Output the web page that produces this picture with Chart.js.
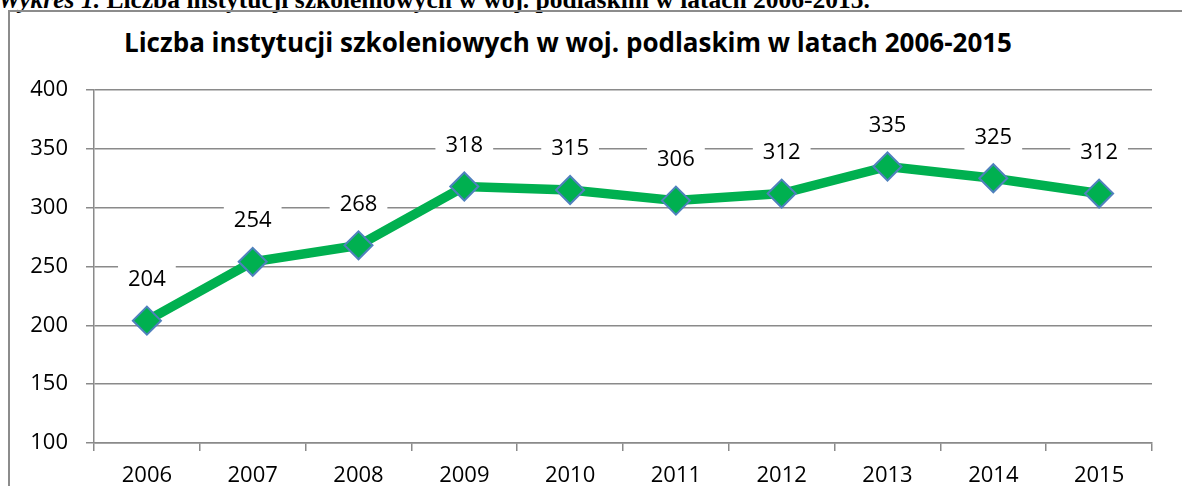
<!DOCTYPE html>
<html>
<head>
<meta charset="utf-8">
<script src="https://cdn.jsdelivr.net/npm/chart.js@4"></script>
<style>
  html, body { margin: 0; padding: 0; background: #fff; }
  body { width: 1182px; height: 486px; overflow: hidden; position: relative; }
  #caption {
    position: absolute; left: -2px; top: -15px; white-space: nowrap; line-height: 25px;
    font: bold 25.5px "Liberation Serif", "Times New Roman", serif; color: #000;
  }
  #frame {
    position: absolute; left: 8px; top: 10px; width: 1300px; height: 600px;
    border-left: 2px solid #8c8c8c; border-top: 2px solid #8c8c8c;
  }
  #title {
    position: absolute; left: 0; top: 24px; width: 1136px; text-align: center; line-height: 30px;
    font: bold 26px "Open Sans", sans-serif; color: #000; white-space: nowrap;
  }
  #wrap { position: absolute; left: 0; top: 0; width: 1182px; height: 486px; }
</style>
</head>
<body>
<div id="caption"><i>Wykres 1.</i> Liczba instytucji szkoleniowych w woj. podlaskim w latach 2006-2015.</div>
<div id="frame"></div>
<div id="title">Liczba instytucji szkoleniowych w woj. podlaskim w latach 2006-2015</div>
<div id="wrap"><canvas id="lineChart"></canvas></div>
<script>
/* data */
const years = ['2006', '2007', '2008', '2009', '2010', '2011', '2012', '2013', '2014', '2015'];
const counts = [204, 254, 268, 318, 315, 306, 312, 335, 325, 312];
const Y_MIN = 100, Y_MAX = 400, Y_STEP = 50;

const GRID = '#8a8a8a';
const FONT = { family: '"Open Sans", sans-serif', size: 22 };

// value labels on white boxes, drawn over the grid but under the line
const valueLabels = {
  id: 'valueLabels',
  beforeDatasetsDraw(chart) {
    const ctx = chart.ctx;
    const meta = chart.getDatasetMeta(0);
    ctx.save();
    ctx.font = '22px "Open Sans", sans-serif';
    ctx.textAlign = 'center';
    ctx.textBaseline = 'middle';
    meta.data.forEach((pt, i) => {
      const txt = String(counts[i]);
      const w = ctx.measureText(txt).width + 20;
      const cy = pt.y - 42;
      ctx.fillStyle = '#fff';
      ctx.fillRect(pt.x - w / 2, cy - 15, w, 30);
      ctx.fillStyle = '#000';
      ctx.fillText(txt, pt.x, cy + 1);
    });
    ctx.restore();
  }
};

new Chart(document.getElementById('lineChart'), {
  type: 'line',
  data: {
    labels: years,
    datasets: [{
      label: 'Liczba instytucji',
      data: counts,
      borderColor: '#00B050',
      backgroundColor: '#00B050',
      borderWidth: 9.5,
      tension: 0,
      pointStyle: 'rectRot',
      pointRadius: 14,
      pointBackgroundColor: '#00B050',
      pointBorderColor: '#4F81BD',
      pointBorderWidth: 2
    }]
  },
  options: {
    responsive: true,
    maintainAspectRatio: false,
    animation: false,
    layout: { padding: { left: 0, top: 90, right: 30, bottom: 0 } },
    plugins: { legend: { display: false }, title: { display: false }, tooltip: { enabled: false } },
    scales: {
      x: {
        offset: true,
        afterFit: s => { s.height = 43; },
        grid: { offset: true, drawOnChartArea: false, drawTicks: true, tickLength: 8, color: GRID, lineWidth: 1.5 },
        border: { color: GRID, width: 1.5 },
        ticks: { color: '#000', font: FONT, padding: 12, maxRotation: 0 }
      },
      y: {
        min: Y_MIN, max: Y_MAX,
        afterFit: s => { s.width = 94; },
        grid: { color: GRID, lineWidth: 1.5, tickLength: 8 },
        border: { color: GRID, width: 1.5 },
        ticks: { stepSize: Y_STEP, color: '#000', font: FONT, padding: 18 }
      }
    }
  },
  plugins: [valueLabels]
});
</script>
</body>
</html>
